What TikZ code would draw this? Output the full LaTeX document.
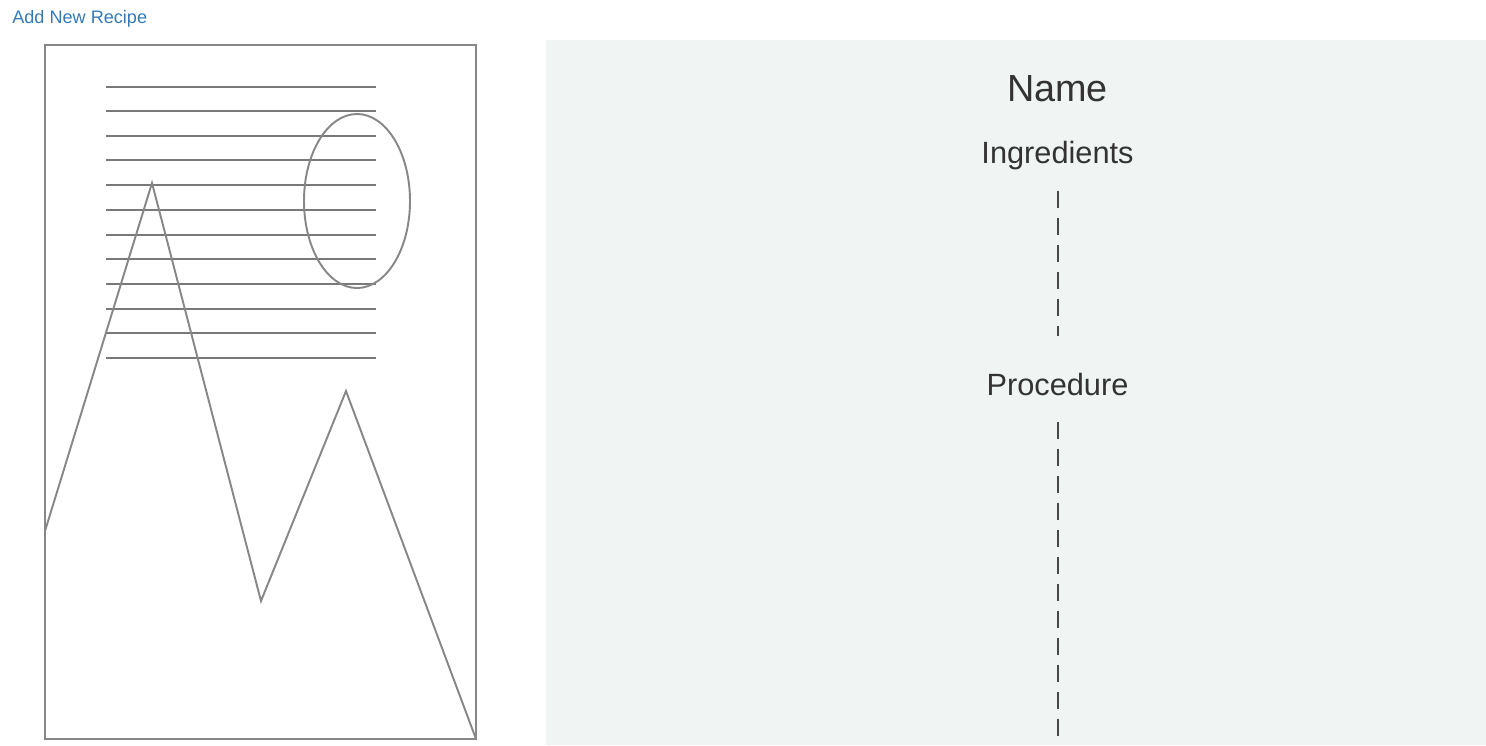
\documentclass[tikz,border=0pt]{standalone}
\usepackage{fontspec}
\setmainfont{Liberation Sans}
\usepackage{xcolor}
\usepackage{tikz}
\usetikzlibrary{positioning,calc}
\definecolor{linkblue}{RGB}{51,122,183}
\definecolor{panelbg}{RGB}{240,245,244}
\definecolor{sketchgray}{RGB}{135,135,135}
\definecolor{inkgray}{RGB}{51,51,51}
\tikzset{
  sketch/.style={line width=1.3pt,draw=sketchgray},
  rule/.style={line width=1.2pt,draw=sketchgray!90!black},
  dashline/.style={line width=1.15pt,draw=inkgray!90,dash pattern=on 0.34cm off 0.2cm},
  heading/.style={font=\fontsize{21.5}{24}\selectfont,text=inkgray,inner sep=0pt},
  section/.style={font=\fontsize{17.5}{20}\selectfont,text=inkgray,inner sep=0pt}
}

\begin{document}
\begin{tikzpicture}[
  x=0.02cm,y=-0.02cm,
  link/.style={font=\fontsize{10.3}{12}\selectfont,text=linkblue,inner sep=0pt,anchor=west}
]
  \useasboundingbox (0,0) rectangle (1486,745);

  \node[link] (addnew) at (12,19) {Add New Recipe};

  % image placeholder
  \begin{scope}
    \draw[sketch] (45,45) rectangle (476,739);
    \foreach \y in {87,111,136,160,185,210,235,259,284,309,333,358}{
      \draw[rule] (106,\y) -- (376,\y);
    }
    \draw[sketch,line width=1.1pt] (357,201) ellipse [x radius=53,y radius=87];
    \draw[sketch,line width=1.1pt] (45,531) -- (152,183) -- (261,601) -- (346,391) -- (476,739);
  \end{scope}

  % recipe panel
  \begin{scope}
    \fill[panelbg] (546,40) rectangle (1486,745);

    \node[heading] (name) at (1057.5,89) {Name};
    \node[section] (ingredients) at (1057.5,156) {Ingredients};
    \node[section] (procedure) at (1057.5,384) {Procedure};
    \coordinate (panelend) at (1057.5,745);

    \draw[dashline,shorten <=0.4cm,shorten >=0.72cm] (ingredients.south) -- (procedure.north);
    \draw[dashline,shorten <=0.52cm] (procedure.south) -- (panelend);
  \end{scope}
\end{tikzpicture}
\end{document}
